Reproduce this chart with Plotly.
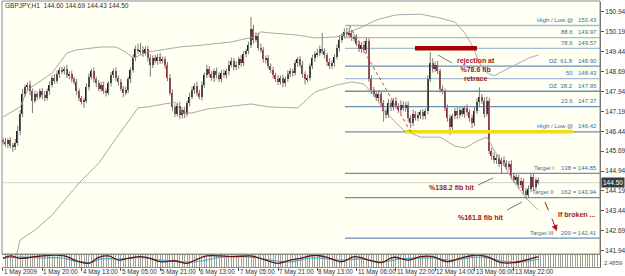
import plotly.graph_objects as go

W, H = 625, 276
header_text = "GBPJPY,H1  144.60 144.69 144.43 144.50"
first_open = 146.10
close = [146.05,145.95,146.10,145.90,145.85,146.00,146.45,147.10,147.85,148.10,
         148.20,147.95,147.60,147.85,147.75,147.95,147.80,147.70,147.95,148.20,
         148.45,148.35,148.60,148.75,148.70,148.80,148.55,148.60,148.40,148.30,
         147.95,147.70,147.55,147.60,148.10,148.50,148.70,148.40,148.25,148.05,
         148.20,147.95,147.90,148.25,148.55,148.70,148.45,148.30,148.05,147.90,
         148.00,148.40,148.75,149.20,149.55,149.45,149.50,149.40,149.55,149.20,
         148.95,149.20,149.10,149.25,149.10,149.15,148.95,148.45,147.90,147.35,
         147.10,147.40,147.05,147.25,147.10,147.50,147.75,148.00,148.15,147.90,
         147.75,148.20,148.55,148.80,148.60,148.45,148.70,148.55,148.40,148.65,
         148.55,148.70,148.95,149.10,148.85,148.95,149.15,149.00,149.35,149.45,
         149.70,150.30,149.90,150.05,149.60,149.50,149.15,149.20,148.90,148.75,
         148.55,148.40,148.30,148.45,148.25,148.40,148.60,148.70,148.65,149.00,
         149.15,148.95,148.60,148.40,148.45,148.90,149.20,149.35,149.40,149.55,
         149.45,149.30,149.05,148.90,149.00,149.25,149.60,149.90,150.05,150.20,
         150.10,150.15,150.00,149.95,149.75,149.55,149.70,149.50,149.85,148.40,
         148.00,147.85,147.70,147.85,147.50,147.20,147.05,147.50,147.35,147.60,
         147.40,147.25,147.45,147.30,147.45,146.95,146.75,147.10,146.95,147.05,
         147.15,147.00,147.20,148.40,149.00,148.80,148.95,148.70,148.05,147.95,
         147.30,146.95,146.60,147.00,147.20,147.05,147.25,147.10,147.30,147.15,
         146.95,146.75,147.20,147.55,147.75,147.60,147.10,147.60,145.70,145.50,
         145.35,145.45,145.20,145.35,145.25,145.10,145.20,144.75,144.60,144.70,
         144.40,144.55,144.20,144.05,144.25,144.70,144.35,144.60,144.50]
wick_up = [.10,.15,.08,.12,.10,.15,.20,.15,.18,.10,
           .08,.15,.10,.12,.08,.10,.12,.15,.10,.12,
           .10,.15,.12,.10,.12,.08,.15,.10,.12,.10,
           .12,.10,.08,.10,.15,.12,.10,.15,.10,.12,
           .10,.12,.10,.08,.12,.10,.15,.10,.12,.10,
           .12,.10,.10,.15,.12,.20,.27,.15,.10,.12,
           .15,.10,.12,.10,.15,.10,.12,.10,.15,.12,
           .10,.12,.15,.10,.12,.10,.15,.12,.10,.15,
           .10,.12,.10,.15,.10,.12,.10,.15,.12,.10,
           .12,.10,.15,.12,.10,.12,.10,.15,.12,.10,
           .12,.45,.15,.12,.10,.15,.12,.10,.12,.10,
           .12,.10,.15,.10,.12,.10,.15,.12,.10,.12,
           .10,.12,.15,.10,.12,.10,.12,.10,.15,.12,
           .60,.12,.10,.15,.12,.10,.12,.15,.10,.12,
           .15,.18,.12,.10,.15,.12,.10,.15,.12,.10,
           .15,.12,.10,.15,.10,.12,.10,.15,.12,.10,
           .12,.10,.15,.12,.10,.12,.10,.15,.10,.12,
           .10,.12,.10,.15,.43,.20,.12,.15,.10,.12,
           .10,.15,.12,.10,.12,.15,.10,.12,.10,.15,
           .12,.10,.15,.12,.35,.10,.12,.15,.10,.12,
           .15,.10,.12,.10,.15,.10,.12,.15,.10,.12,
           .10,.15,.12,.10,.15,.16,.12,.10,.09]
wick_dn = [.12,.10,.15,.10,.19,.12,.10,.15,.12,.10,
           .12,.15,.47,.10,.12,.10,.15,.12,.10,.12,
           .10,.12,.10,.15,.10,.12,.10,.15,.12,.10,
           .15,.12,.10,.23,.10,.12,.10,.12,.15,.10,
           .12,.10,.15,.10,.12,.10,.12,.15,.10,.17,
           .10,.12,.15,.10,.12,.10,.12,.15,.10,.12,
           .45,.12,.10,.15,.12,.10,.15,.12,.10,.15,
           .12,.10,.15,.12,.16,.10,.12,.10,.15,.12,
           .10,.15,.12,.10,.12,.10,.15,.12,.10,.12,
           .10,.12,.15,.10,.12,.10,.15,.12,.10,.12,
           .10,.12,.15,.10,.12,.10,.12,.15,.10,.12,
           .12,.10,.12,.10,.15,.12,.10,.12,.15,.10,
           .12,.10,.15,.20,.12,.10,.12,.15,.10,.12,
           .10,.12,.15,.12,.10,.12,.10,.15,.12,.10,
           .12,.10,.15,.12,.10,.12,.15,.10,.12,.10,
           .15,.12,.10,.12,.15,.40,.12,.10,.15,.12,
           .10,.12,.15,.10,.12,.15,.19,.12,.10,.12,
           .15,.12,.10,.12,.10,.15,.12,.10,.15,.12,
           .10,.15,.30,.12,.10,.15,.12,.10,.15,.12,
           .15,.19,.12,.10,.15,.12,.15,.10,.12,.15,
           .12,.15,.10,.34,.12,.10,.15,.12,.10,.15,
           .12,.10,.15,.17,.12,.10,.15,.12,.07]

bb_up_bar = [0,7,10,20,26,30,40,46,50,53,59,72,81,93,102,105,109,120,127,136,140,146,152,160,170,178,184,188,191,194,197,200,203,209,214,218]
bb_up_val = [146.98,147.36,148.00,148.64,149.39,149.51,149.62,149.62,149.43,149.20,149.43,149.62,149.69,149.81,150.00,150.19,150.15,150.07,149.96,150.00,150.15,150.37,150.64,150.83,150.86,150.71,150.56,150.15,149.69,149.02,148.64,148.53,148.68,148.98,149.20,149.32]
bb_lo_bar = [5,7,13,20,31,39,47,55,59,70,73,77,83,101,108,120,127,136,142,147,151,155,159,163,170,178,184,188,194,197,200,205,209,213,218]
bb_lo_val = [141.60,142.34,142.71,143.28,144.49,145.24,146.30,147.32,147.36,147.54,147.13,147.13,147.28,147.47,147.36,147.32,147.92,148.19,148.30,148.22,147.81,147.24,146.86,146.49,146.22,146.22,145.88,145.81,146.11,146.22,145.73,144.98,144.41,143.92,143.47]

osc_bar = [0,3,7,13,20,25,31,35,39,43,47,51,56,60,64,70,75,79,83,89,94,101,106,112,117,121,127,132,138,143,149,154,159,165,170,175,181,186,192,197,203,208,214,218]
osc_val = [72,92,72,86,98,92,44,31,81,92,58,72,86,72,44,52,31,64,92,92,86,92,64,31,58,72,98,81,44,86,58,36,81,58,86,86,44,72,98,86,36,36,64,86]
sig_bar = [0,7,15,24,31,36,40,48,56,64,75,81,89,101,109,117,125,138,146,154,162,174,182,195,203,211,218]
sig_val = [75,83,75,75,42,38,67,67,79,58,42,50,83,83,58,42,75,58,67,42,67,75,58,83,50,42,67]

date_labels = ["1 May 2009","1 May 20:00","4 May 13:00","5 May 05:00","5 May 21:00","6 May 13:00","7 May 05:00",
               "7 May 21:00","8 May 13:00","11 May 06:00","11 May 22:00","12 May 14:00","13 May 06:00","13 May 22:00"]
date_bars = [0,16,32,48,64,80,96,112,128,144,160,176,192,208]
price_ticks = [150.94,150.19,149.44,148.69,147.94,147.19,146.44,145.69,144.94,144.19,143.44,142.69,141.94]

fib_names = ["High / Low @","88.6","78.6","DZ  61.8","50","DZ  38.2","23.6","High / Low @","Target I","Target II","Target III"]
fib_values = [150.43,149.97,149.57,148.90,148.43,147.95,147.37,146.42,144.85,143.94,142.41]
fib_texts = ["150.43","149.97","149.57","148.90","148.43","147.95","147.37","146.42","138 = 144.85","162 = 143.94","200 = 142.41"]
fib_light = [True,True,True,False,True,False,False,False,False,False,False]
last_price = 144.50

opens = [first_open] + close[:-1]
highs = [max(o, c) + u for o, c, u in zip(opens, close, wick_up)]
lows = [min(o, c) - d for o, c, d in zip(opens, close, wick_dn)]
bars = list(range(len(close)))

X0, X1 = -0.4, 243.1
Y0, Y1 = 141.81, 151.317
def px(p): return p / W
def py(p): return 1 - p / H
def bx(p): return X0 + (p - 2) / 2.456
def pp(p): return 150.94 - (p - 12) / 26.5

FONT = "Liberation Sans"
RED = "#a01818"
UPC, DNC = "#1c1c1c", "#9c2340"

fig = go.Figure()
fig.add_trace(go.Scatter(x=bb_up_bar, y=bb_up_val, mode="lines", line=dict(color="#a8a8a8", width=1), hoverinfo="skip"))
fig.add_trace(go.Scatter(x=bb_lo_bar, y=bb_lo_val, mode="lines", line=dict(color="#a8a8a8", width=1), hoverinfo="skip"))
wx, wy = [], []
for b, h, l in zip(bars, highs, lows):
    wx += [b, b, None]
    wy += [h, l, None]
fig.add_trace(go.Scatter(x=wx, y=wy, mode="lines", line=dict(color="#7a7a7a", width=1), hoverinfo="skip"))
body_base = [min(o, c) for o, c in zip(opens, close)]
body_h = [max(abs(c - o), 0.02) for o, c in zip(opens, close)]
body_col = [UPC if c >= o else DNC for o, c in zip(opens, close)]
fig.add_trace(go.Bar(x=bars, y=body_h, base=body_base, width=0.6, marker=dict(color=body_col, line=dict(width=0)),
                     hoverinfo="skip"))
fig.add_trace(go.Scatter(x=sig_bar, y=sig_val, mode="lines", line=dict(color="#3cb0d8", width=1.2, shape="spline"),
                         xaxis="x2", yaxis="y2", hoverinfo="skip"))
fig.add_trace(go.Scatter(x=osc_bar, y=osc_val, mode="lines", line=dict(color="#6a1010", width=1.3, shape="spline"),
                         xaxis="x2", yaxis="y2", hoverinfo="skip"))

shapes = []
shapes.append(dict(type="line", xref="x", yref="y", x0=X0, x1=X1, y0=last_price, y1=last_price,
                   line=dict(color="#d2d2d2", width=1), layer="below"))
for v, light in zip(fib_values, fib_light):
    shapes.append(dict(type="line", xref="x", yref="y", x0=bx(345), x1=X1, y0=v, y1=v,
                       line=dict(color="#a6bcd4" if light else "#6a90b8", width=1.3), layer="below"))
shapes.append(dict(type="line", xref="x", yref="y", x0=bx(405), x1=bx(573), y0=fib_values[7], y1=fib_values[7],
                   line=dict(color="#ecdc1c", width=3.5)))
shapes.append(dict(type="line", xref="x", yref="y", x0=bx(415), x1=bx(477), y0=fib_values[2], y1=fib_values[2],
                   line=dict(color="#a80000", width=4.5)))
shapes.append(dict(type="line", xref="x", yref="y", x0=141, x1=166, y0=fib_values[0], y1=fib_values[7],
                   line=dict(color="#d83838", width=1, dash="dot")))
for (a, b, c, d) in [(438, 55, 452, 63), (478, 185, 493, 178), (507, 210, 522, 202)]:
    shapes.append(dict(type="line", xref="x", yref="y", x0=bx(a), y0=pp(b), x1=bx(c), y1=pp(d),
                       line=dict(color="#555555", width=0.8)))
shapes.append(dict(type="line", xref="x", yref="y", x0=bx(545), y0=pp(202), x1=bx(555), y1=pp(226),
                   line=dict(color=RED, width=1, dash="dash")))
shapes.append(dict(type="rect", xref="paper", yref="paper", x0=px(2), x1=px(600), y0=py(254), y1=py(1),
                   line=dict(color="#8a8a8a", width=1)))

annotations = []
annotations.append(dict(xref="paper", yref="paper", x=px(3), y=py(6), xanchor="left", yanchor="middle",
                        text=header_text, showarrow=False, font=dict(family=FONT, size=6.5, color="#303030")))
for i, (name, v, t) in enumerate(zip(fib_names, fib_values, fib_texts)):
    tgt = i >= 8
    annotations.append(dict(xref="x", yref="y", x=bx(556 if tgt else 575), y=v, yshift=5.5, xanchor="right",
                            yanchor="middle", text=name, showarrow=False,
                            font=dict(family=FONT, size=6, color="#3a6ea5")))
    annotations.append(dict(xref="x", yref="y", x=bx(599), y=v, yshift=5.5, xanchor="right",
                            yanchor="middle", text=t, showarrow=False,
                            font=dict(family=FONT, size=6, color="#3a6ea5")))
annotations.append(dict(xref="x", yref="y", x=bx(476), y=pp(69), text="<b>rejection at<br>%78.6 fib<br>retrace</b>",
                        showarrow=False, font=dict(family=FONT, size=7, color=RED), align="center"))
annotations.append(dict(xref="x", yref="y", x=bx(476), y=pp(187), xanchor="right", text="<b>%138.2 fib hit</b>",
                        showarrow=False, font=dict(family=FONT, size=7, color=RED)))
annotations.append(dict(xref="x", yref="y", x=bx(481), y=pp(217), text="<b>%161.8 fib hit</b>",
                        showarrow=False, font=dict(family=FONT, size=7, color=RED)))
annotations.append(dict(xref="x", yref="y", x=bx(556), y=pp(214), xanchor="left", text="<b>If broken ...</b>",
                        showarrow=False, font=dict(family=FONT, size=7, color=RED)))
annotations.append(dict(xref="x", yref="y", x=bx(557), y=pp(231), ax=bx(554), ay=pp(224), axref="x", ayref="y",
                        text="", showarrow=True, arrowhead=2, arrowsize=1.2, arrowwidth=1, arrowcolor=RED))
annotations.append(dict(xref="paper", yref="y", x=px(601), y=last_price, xanchor="left", yanchor="middle",
                        text="144.50", showarrow=False, bgcolor="#3a3a3a", borderpad=1,
                        font=dict(family=FONT, size=6.5, color="#ffffff")))
for lab, b in zip(date_labels, date_bars):
    annotations.append(dict(xref="x2", yref="paper", x=b, y=py(272), xanchor="left", yanchor="middle",
                            xshift=-1, text=lab, showarrow=False, font=dict(family=FONT, size=6.3, color="#303030")))
annotations.append(dict(xref="paper", yref="paper", x=px(602), y=py(263), xanchor="left", yanchor="middle",
                        text="2.4859", showarrow=False, font=dict(family=FONT, size=6, color="#555555")))

fig.update_layout(
    width=W, height=H, margin=dict(l=0, r=0, t=0, b=0),
    paper_bgcolor="#ffffff", plot_bgcolor="#fffff2", showlegend=False, bargap=0,
    shapes=shapes, annotations=annotations,
    xaxis=dict(domain=[px(2), px(600)], range=[X0, X1], showticklabels=False, showgrid=False, zeroline=False,
               anchor="y"),
    yaxis=dict(domain=[py(254), py(2)], range=[Y0, Y1], side="right", tickvals=price_ticks,
               ticktext=[f"{v:.2f}" for v in price_ticks], ticks="outside", ticklen=3, tickcolor="#555",
               tickfont=dict(family=FONT, size=6.5, color="#303030"), showgrid=False, zeroline=False,
               showline=True, linecolor="#606060", linewidth=1, anchor="x"),
    xaxis2=dict(domain=[px(2), px(600)], range=[X0, X1], anchor="y2", showticklabels=False,
                tickvals=date_bars, ticks="outside", ticklen=3, tickcolor="#555", showgrid=True, gridcolor="#a0a0a0",
                minor=dict(tickmode="linear", tick0=0, dtick=1, showgrid=True, gridcolor="#a0a0a0", gridwidth=1),
                showline=True, linecolor="#8a8a8a", mirror=True, zeroline=False),
    yaxis2=dict(domain=[py(267), py(255)], range=[0, 100], anchor="x2", side="right", showticklabels=False,
                showgrid=False, zeroline=False, showline=True, linecolor="#606060"),
)
fig.write_html("out.html")
